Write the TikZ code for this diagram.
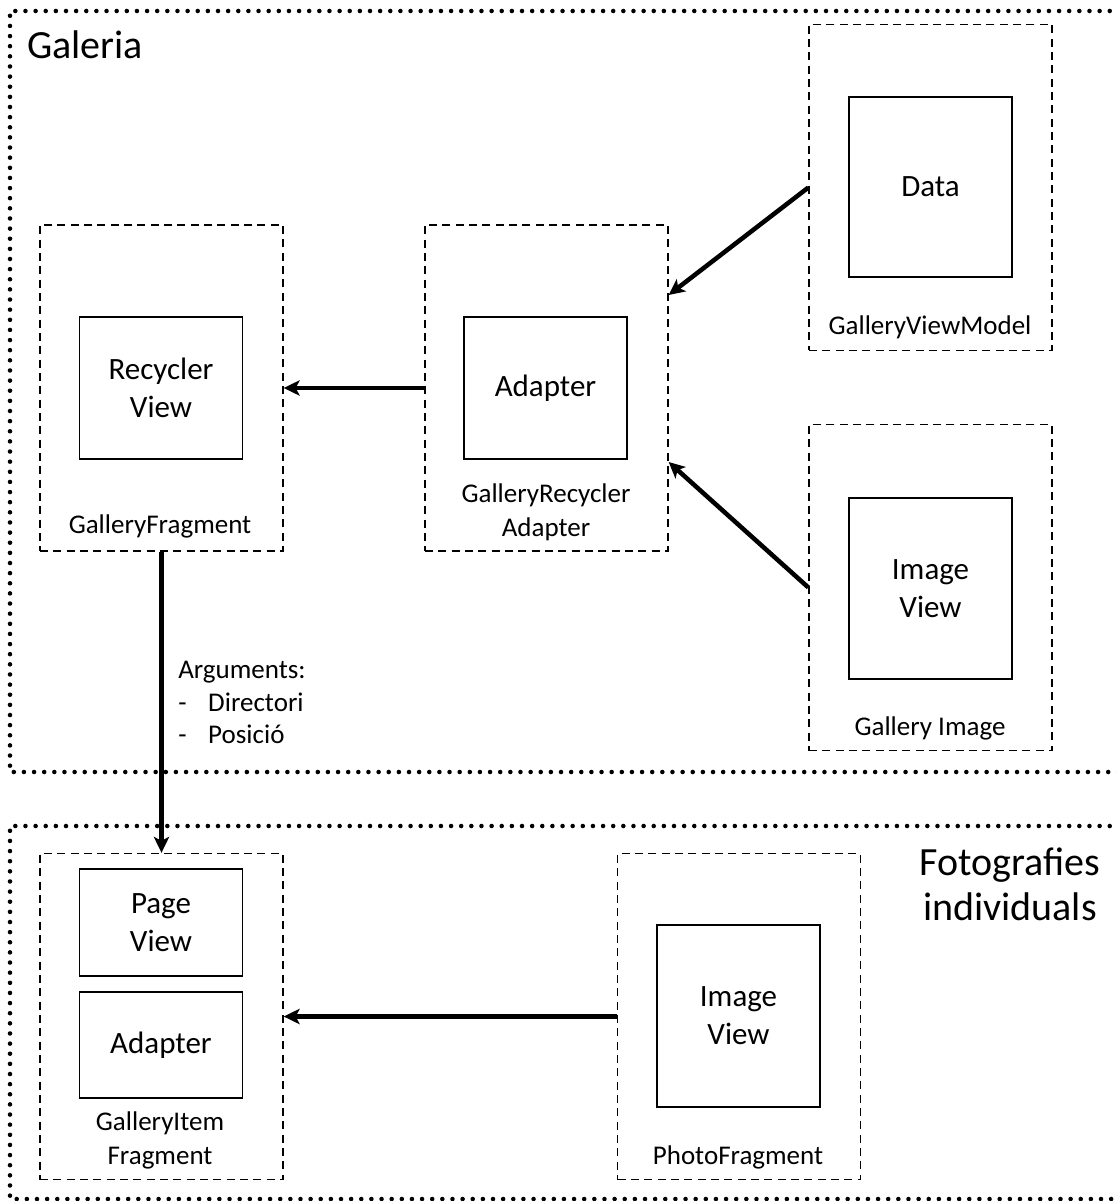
\documentclass[tikz,border=0pt]{standalone}
\usepackage{fontspec}
\setmainfont{Carlito}
\usetikzlibrary{arrows.meta,calc}

\tikzset{
  region/.style={line width=3.4pt, dash pattern=on 0pt off 7.6pt, line cap=round},
  component/.style={draw, line width=1pt, dash pattern=on 6pt off 4pt,
    minimum width=182.25pt, minimum height=244.5pt, inner sep=0pt},
  part/.style={draw, line width=1.1pt, minimum width=122.25pt, inner sep=0pt,
    align=center, font=\fontsize{23.25}{28.5}\selectfont},
  caption/.style={align=center, inner sep=0pt, font=\fontsize{20.25}{25.5}\selectfont},
  title/.style={align=center, inner sep=0pt, font=\fontsize{30}{33.75}\selectfont},
  flow/.style={line width=3.4pt, -{Stealth[length=12pt, width=11.5pt, inset=3pt]}}
}

\begin{document}
\begin{tikzpicture}[x=0.75pt, y=-0.75pt]
\clip (0,0) rectangle (1116,1201);

% package regions
\draw[region] (1130,11) -- (10,11) -- (10,772) -- (1130,772);
\draw[region] (1130,826) -- (10,826) -- (10,1199) -- (1130,1199);
\node[title, anchor=west] (galeria) at (27,45) {Galeria};
\node[title] (fotos) at (1010,884) {Fotografies\\individuals};

% components
\node[component] (gf)   at (161.5,388) {};
\node[component] (grad) at (546.5,388) {};
\node[component] (gvm)  at (930.5,187.5) {};
\node[component] (gimg) at (930.5,587.5) {};
\node[component] (gif)  at (161.5,1016.5) {};
\node[component] (pf)   at (739,1016.5) {};

% inner parts
\node[part, minimum height=106.5pt] (rv)   at (161,388)    {Recycler\\View};
\node[part, minimum height=106.5pt] (ad)   at (545.5,388)  {Adapter};
\node[part, minimum height=135pt]   (data) at (930.5,187)  {Data};
\node[part, minimum height=135.75pt] (iv1) at (930.5,588.5) {Image\\View};
\node[part, minimum height=80.25pt] (pv)   at (161,922.5)  {Page\\View};
\node[part, minimum height=79.5pt]  (ad2)  at (161,1045)   {Adapter};
\node[part, minimum height=136.5pt] (iv2)  at (738.5,1016) {Image\\View};

% component names
\node[caption] (l-gf)   at (160,526)  {GalleryFragment};
\node[caption] (l-grad) at (546,512)  {GalleryRecycler\\Adapter};
\node[caption] (l-gvm)  at (930,327)  {GalleryViewModel};
\node[caption] (l-gimg) at (930,728)  {Gallery Image};
\node[caption] (l-gif)  at (160,1140) {GalleryItem\\Fragment};
\node[caption] (l-pf)   at (738,1157) {PhotoFragment};

% navigation arguments
\node[anchor=north west, align=left, inner sep=0pt,
      font=\fontsize{20.25}{24.4}\selectfont] (args) at (178,661)
  {Arguments:\\\makebox[22.5pt][l]{-}Directori\\\makebox[22.5pt][l]{-}Posició};

% data flow
\draw[flow] (grad.west) -- (gf.east);
\draw[flow] (gvm.west) -- ($(grad.east)+(0,-93)$);
\draw[flow] (gimg.west) -- ($(grad.east)+(0,74)$);
\draw[flow] (gf.south) -- (gif.north);
\draw[flow] (pf.west) -- (gif.east);
\end{tikzpicture}
\end{document}
